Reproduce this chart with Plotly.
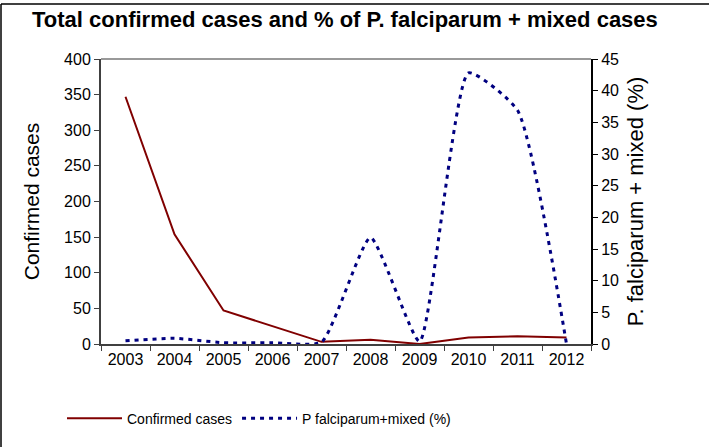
import plotly.graph_objects as go

years = ["2003", "2004", "2005", "2006", "2007", "2008", "2009", "2010", "2011", "2012"]
confirmed_cases = [347, 154, 47, 25, 3, 6, 0, 9, 11, 9]
pf_mixed_pct = [0.5, 0.9, 0.2, 0.2, 0.3, 16.8, 0.4, 42.8, 36.9, 0.0]

W, H = 709, 447
L, R, T, B = 101, 118, 59, 98
pw, ph = W - L - R, H - T - B

def px_x(x):
    return (x - L) / pw

def px_y(y):
    return (H - B - y) / ph

FONT = "Liberation Sans, Arial, sans-serif"

fig = go.Figure()
fig.add_trace(go.Scatter(
    x=years, y=confirmed_cases, name="Confirmed cases", mode="lines",
    line=dict(color="#800000", width=2), yaxis="y"))
fig.add_trace(go.Scatter(
    x=years, y=pf_mixed_pct, name="P falciparum+mixed (%)", mode="lines",
    line=dict(color="#000080", width=3, dash="4px,5px", shape="spline", smoothing=0.5),
    yaxis="y2"))

fig.update_layout(
    width=W, height=H,
    margin=dict(l=L, r=R, t=T, b=B),
    paper_bgcolor="white", plot_bgcolor="white",
    font=dict(family=FONT, color="black", size=16),
    title=dict(text="<b>Total confirmed cases and % of P. falciparum + mixed cases</b>",
               x=32 / W, xanchor="left", xref="container",
               y=1 - 19 / H, yanchor="middle", yref="container",
               font=dict(size=22, family=FONT, color="black")),
    showlegend=True,
    legend=dict(orientation="h", x=px_x(62), xanchor="left", y=px_y(425), yanchor="middle",
                font=dict(size=14, family=FONT), bgcolor="rgba(0,0,0,0)",
                itemwidth=55, tracegroupgap=0),
    xaxis=dict(type="category", tickson="boundaries", ticks="outside", ticklen=5,
               tickcolor="#404040", showline=True, linecolor="#404040", linewidth=2,
               showgrid=False, zeroline=False, tickfont=dict(size=16),
               range=[-0.5, 9.5]),
    yaxis=dict(title=dict(text="Confirmed cases", font=dict(size=21), standoff=19),
               range=[0, 400], dtick=50, ticks="outside", ticklen=5,
               tickcolor="#404040", showline=True, linecolor="#404040", linewidth=2,
               showgrid=False, zeroline=False, tickfont=dict(size=16)),
    yaxis2=dict(title=dict(text="P. falciparum + mixed (%)", font=dict(size=22), standoff=10),
                overlaying="y", side="right", range=[0, 45], dtick=5,
                ticks="outside", ticklen=5, tickcolor="black",
                showline=True, linecolor="black", linewidth=2,
                showgrid=False, zeroline=False, tickfont=dict(size=16)),
    shapes=[
        dict(type="line", xref="paper", yref="paper", x0=0, x1=1, y0=1, y1=1,
             line=dict(color="#999999", width=2)),
        dict(type="line", xref="paper", yref="paper", x0=px_x(1), x1=px_x(1),
             y0=px_y(3), y1=px_y(460), line=dict(color="black", width=1.5)),
        dict(type="line", xref="paper", yref="paper", x0=px_x(1), x1=px_x(712),
             y0=px_y(3), y1=px_y(3), line=dict(color="black", width=1.5)),
    ],
)

fig.write_html(
    "out.html",
    config={"displayModeBar": False},
    post_script=("document.documentElement.style.margin='0';"
                 "document.documentElement.style.overflow='hidden';"
                 "document.body.style.margin='0';document.body.style.padding='0';"
                 "document.body.style.overflow='hidden';"),
)
